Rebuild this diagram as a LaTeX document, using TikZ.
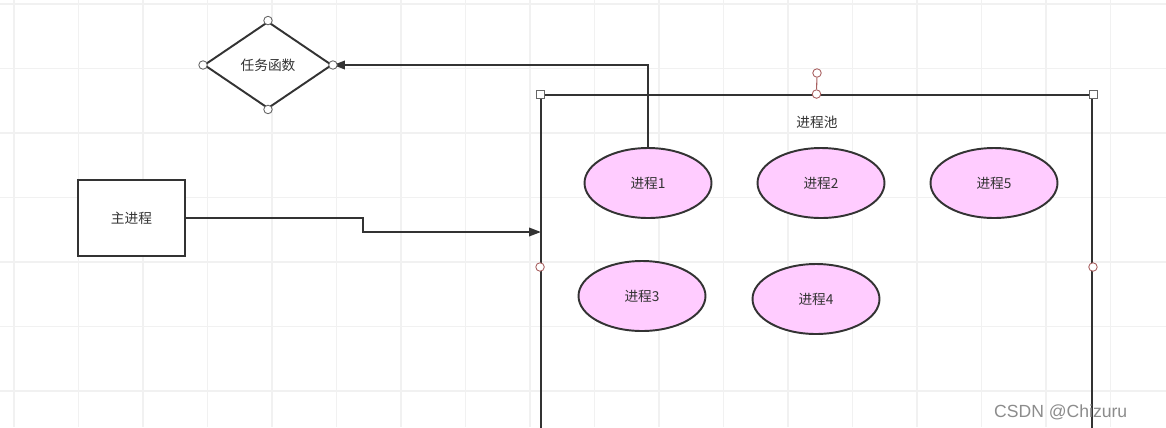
\documentclass[tikz,border=0pt]{standalone}
\usepackage{fontspec}
\setmainfont{Noto Sans CJK SC}
\newfontfamily\wmfont{Liberation Sans}
\usetikzlibrary{shapes.geometric,arrows.meta,fit}
\definecolor{edge}{HTML}{333333}
\definecolor{procfill}{HTML}{FFCCFF}
\definecolor{selred}{HTML}{A86060}
\definecolor{gridc}{HTML}{F1F1F1}
\tikzset{
  conn/.style = {draw=edge, line width=1.1pt, -{Triangle[length=2.4mm,width=1.7mm]}},
  proc/.style = {ellipse, draw=edge, line width=1.1pt, fill=procfill, minimum width=2.54cm, minimum height=1.4cm, inner sep=0pt},
  handle/.style = {circle, minimum size=1.7mm, draw=#1, line width=0.5pt, fill=white, inner sep=0pt},
  handle/.default = {gray!80!black},
  sqhandle/.style = {rectangle, minimum size=1.6mm, draw=gray!80!black, line width=0.5pt, fill=white, inner sep=0pt},
  lbl/.style = {font=\fontsize{7.8}{9}\selectfont, text=black!80},
}
\begin{document}
\begin{tikzpicture}[x=0.02cm, y=-0.02cm]
\useasboundingbox (0,0) rectangle (1166,427);
\clip (0,0) rectangle (1166,427);
\fill[white] (0,0) rectangle (1166,427);
\foreach \i in {0,...,17}
  \draw[gridc, line width=0.6pt] ({14+64.5*\i},0) -- ++(0,427);
\foreach \j in {0,...,6}
  \draw[gridc, line width=0.6pt] (0,{4+64.5*\j}) -- ++(1166,0);

\node[diamond, draw=edge, line width=1.1pt, fill=white, minimum width=2.56cm, minimum height=1.74cm, inner sep=0pt, lbl] (task) at (268,65) {任务函数};
\node[rectangle, draw=edge, line width=1.1pt, fill=white, minimum width=2.14cm, minimum height=1.52cm, lbl] (main) at (131.5,218) {主进程};

\node[draw=edge, line width=1.1pt, fit={(541,95) (1092,439)}, inner sep=0pt] (pool) {};
\node[lbl] (pooltitle) at (817,122) {进程池};

\node[proc, lbl] (p1) at (648,183) {进程1};
\node[proc, lbl] (p2) at (821,183) {进程2};
\node[proc, lbl] (p5) at (994,183) {进程5};
\node[proc, lbl] (p3) at (642,296) {进程3};
\node[proc, lbl] (p4) at (816,299) {进程4};

\coordinate (entry) at (541,232);
\draw[conn] (main.east) -| (363,225) |- (entry);
\draw[conn] (p1.north) |- (task.east);

\foreach \a in {north,south,east,west}
  \node[handle] at (task.\a) {};
\node[sqhandle] at (pool.north west) {};
\node[sqhandle] at (pool.north east) {};
\node[handle=selred] (rot) at (817,73) {};
\node[handle=selred] (ntop) at (pool.north) {};
\draw[selred, line width=0.6pt] (rot) -- (ntop);
\node[handle=selred] at (pool.west) {};
\node[handle=selred] at (pool.east) {};

\node[anchor=base west, font=\wmfont\fontsize{10}{12}\selectfont, text=gray!90] (mark) at (988,417) {CSDN @Chizuru};
\end{tikzpicture}
\end{document}
